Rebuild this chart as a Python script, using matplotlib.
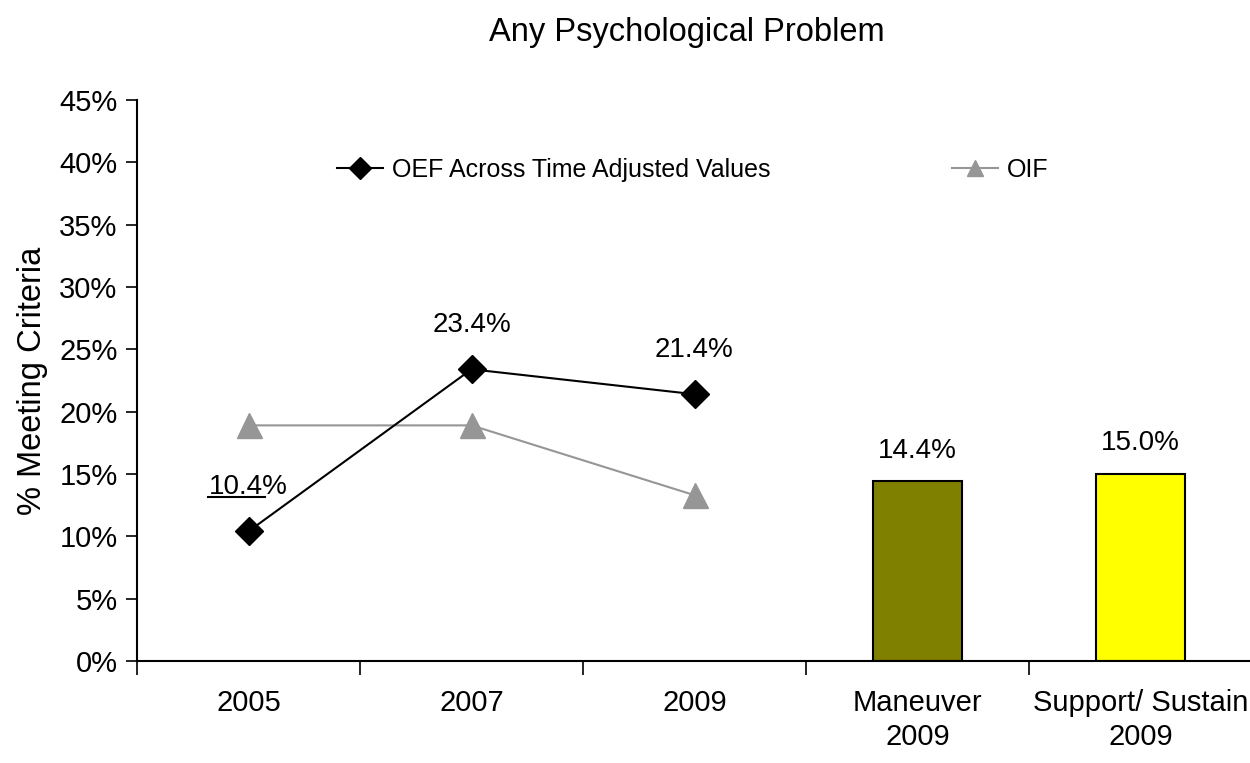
import matplotlib
matplotlib.use("Agg")
import matplotlib.pyplot as plt
from matplotlib.ticker import FixedLocator, FuncFormatter, NullFormatter
from matplotlib.lines import Line2D
import matplotlib.transforms as mtransforms

plt.rcParams['font.family'] = ['Liberation Sans', 'DejaVu Sans']

title = "Any Psychological Problem"
categories = ["2005", "2007", "2009", "Maneuver\n2009", "Support/ Sustain\n2009"]
oef_values = [10.4, 23.4, 21.4]
oif_values = [18.9, 18.9, 13.3]
bar_values = [14.4, 15.0]
bar_colors = ["#808000", "#FFFF00"]
oef_label = "OEF Across Time Adjusted Values"
oif_label = "OIF"
ylabel = "% Meeting Criteria"
yticks = [0, 5, 10, 15, 20, 25, 30, 35, 40, 45]

fig = plt.figure(figsize=(12.5, 7.63), dpi=100)
ax = fig.add_axes([137/1250, 1 - 661/763, (1252-137)/1250, (661-100)/763])

x_line = list(range(len(oef_values)))
x_bar = [3, 4]

oif_line, = ax.plot(x_line, oif_values, color="#969696", lw=1.5, marker="^",
                    markersize=18, markeredgecolor="#969696", markerfacecolor="#969696",
                    label=oif_label, zorder=3)
oef_line, = ax.plot(x_line, oef_values, color="black", lw=1.5, marker="D",
                    markersize=14, markeredgecolor="black", markerfacecolor="black",
                    label=oef_label, zorder=4)
ax.bar(x_bar, bar_values, width=0.40, color=bar_colors, edgecolor="black",
       linewidth=1.5, zorder=2)

fs = 20
for i, v in enumerate(oef_values):
    ax.annotate(f"{v:.1f}%", xy=(i, v), xytext=(0, 32), textcoords="offset points",
                ha="center", va="center", fontsize=fs)
# leader/underline under the first label
off = mtransforms.ScaledTranslation(0, 24.5/72, fig.dpi_scale_trans)
ln = Line2D([x_line[0] - 0.18, x_line[0] + 0.075], [oef_values[0]] * 2,
            transform=ax.transData + off, color="black", lw=1.5)
ax.add_line(ln)

for x, v in zip(x_bar, bar_values):
    ax.annotate(f"{v:.1f}%", xy=(x, v), xytext=(0, 22), textcoords="offset points",
                ha="center", va="center", fontsize=fs)

ax.set_xlim(-0.5, 4.5)
ax.set_ylim(0, 45)
ax.yaxis.set_major_locator(FixedLocator(yticks))
ax.yaxis.set_major_formatter(FuncFormatter(lambda v, p: f"{v:.0f}%"))
ax.xaxis.set_major_locator(FixedLocator([-0.5, 0.5, 1.5, 2.5, 3.5]))
ax.xaxis.set_major_formatter(NullFormatter())
ax.xaxis.set_minor_locator(FixedLocator(list(range(len(categories)))))
ax.set_xticklabels(categories, minor=True, linespacing=1.3)
ax.tick_params(axis="x", which="major", length=10, width=1.2, direction="out")
ax.tick_params(axis="x", which="minor", length=0, pad=20, labelsize=21)
ax.tick_params(axis="y", length=8, width=1.2, direction="out", pad=6, labelsize=21)
for s in ["top", "right"]:
    ax.spines[s].set_visible(False)
for s in ["left", "bottom"]:
    ax.spines[s].set_linewidth(1.5)

ax.set_ylabel(ylabel, fontsize=23.5, labelpad=8)
fig.text(687/1250, 1 - 33/763, title, ha="center", va="center", fontsize=23.5)

leg = ax.legend(handles=[oef_line, oif_line], ncol=2, frameon=False, fontsize=18,
                loc="center left", bbox_to_anchor=((337-137)/1115, (661-170)/561),
                handlelength=1.85, handletextpad=0.36, columnspacing=7.25,
                borderaxespad=0, borderpad=0)
for h in leg.legend_handles:
    h.set_markersize(11)

fig.savefig("out.png", dpi=100)
